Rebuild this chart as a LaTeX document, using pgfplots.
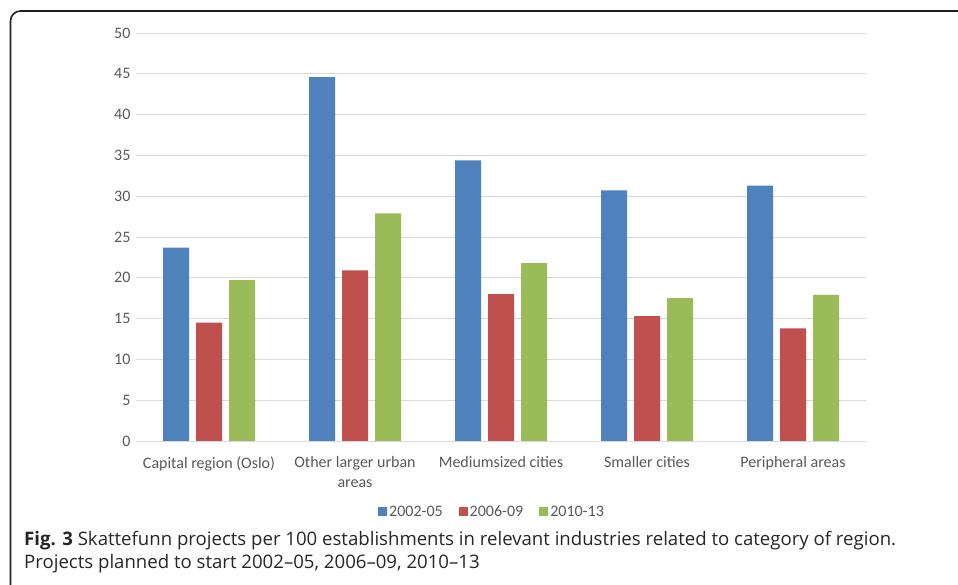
\documentclass[border=0pt]{standalone}
\usepackage{pgfplots}
\pgfplotsset{compat=1.18}
\usepackage{fontspec}
\setmainfont{Carlito}
\newfontfamily\capfont{Open Sans}
\definecolor{s1}{HTML}{4F81BD}
\definecolor{s2}{HTML}{C0504D}
\definecolor{s3}{HTML}{9BBB59}
\definecolor{txt}{HTML}{595959}
\definecolor{grd}{HTML}{D9D9D9}
\begin{document}
\begin{tikzpicture}[x=1pt,y=1pt]
\useasboundingbox (0,0) rectangle (958,585);
\begin{scope}
\clip (0,0) rectangle (958,585);
\draw[line width=1.6pt, color=black!88, rounded corners=10pt] (10.5,-10) -- (10.5,574) -- (970,574);
\end{scope}
\begin{axis}[
  at={(136pt,144pt)}, anchor=south west,
  scale only axis, width=730pt, height=408pt,
  ybar=7pt, bar width=26pt,
  xmin=-0.5, xmax=4.5, ymin=0, ymax=50,
  xtick={0,1,2,3,4},
  xticklabels={Capital region (Oslo), {Other larger urban\\areas}, Mediumsized cities, Smaller cities, Peripheral areas},
  ytick={0,5,...,50},
  axis x line*=bottom, axis y line*=left,
  y axis line style={draw=none},
  x axis line style={draw=grd, line width=0.8pt},
  major tick length=0pt,
  ymajorgrids, grid style={draw=grd, line width=0.8pt},
  /pgf/number format/assume math mode=true,
  ticklabel style={font=\fontsize{16}{20}\selectfont, text=txt},
  xticklabel style={align=center, yshift=-12pt},
  yticklabel style={xshift=-2pt},
  legend columns=3,
  legend style={draw=none, at={(0.4877,-0.174)}, anchor=center,
    font=\fontsize{16}{20}\selectfont, text=txt,
    /tikz/every even column/.append style={column sep=14pt}},
  legend image code/.code={\fill[#1] (0pt,-4.5pt) rectangle (9pt,4.5pt);},
]
\addplot[fill=s1, draw=none] coordinates {(0,23.7) (1,44.6) (2,34.4) (3,30.7) (4,31.3)};
\addplot[fill=s2, draw=none] coordinates {(0,14.5) (1,20.9) (2,18.0) (3,15.3) (4,13.8)};
\addplot[fill=s3, draw=none] coordinates {(0,19.7) (1,27.9) (2,21.8) (3,17.5) (4,17.9)};
\legend{2002-05, 2006-09, 2010-13}
\end{axis}
\node[anchor=base west, inner sep=0pt, font=\capfont\fontsize{18.6}{22}\selectfont, text=black!85] at (24,585-546) {\textbf{Fig. 3} Skattefunn projects per 100 establishments in relevant industries related to category of region.};
\node[anchor=base west, inner sep=0pt, font=\capfont\fontsize{18.6}{22}\selectfont, text=black!85] at (24,585-569) {Projects planned to start 2002–05, 2006–09, 2010–13};
\end{tikzpicture}
\end{document}
